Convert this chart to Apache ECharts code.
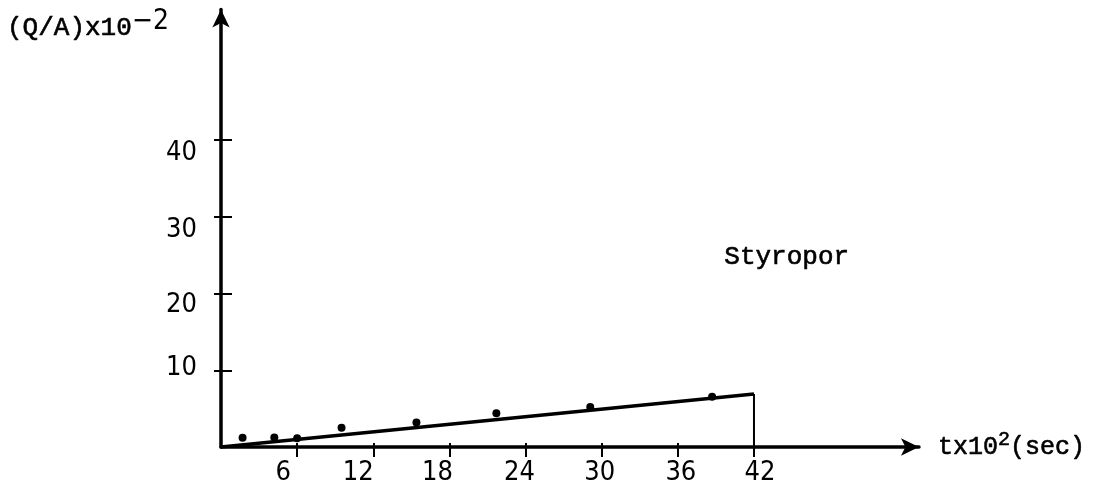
<!DOCTYPE html>
<html>
<head>
<meta charset="utf-8">
<script src="https://cdn.jsdelivr.net/npm/echarts@6/dist/echarts.min.js"></script>
<style>html,body{margin:0;padding:0;background:#fff;}#c{width:1102px;height:493px;}</style>
</head>
<body>
<div id="c"></div>
<script>
// ---- data ----
const xTicks = [6, 12, 18, 24, 30, 36, 42];
const yTicks = [10, 20, 30, 40];
const pointsX = [1.7, 4.2, 6.0, 9.5, 15.4, 21.7, 29.1, 38.7];
const pointsY = [1.2, 1.25, 1.15, 2.5, 3.2, 4.4, 5.2, 6.55];
const fitX = [0, 42];
const fitY = [0, 6.9];
const dropX = [42, 42];
const dropY = [6.9, 0];
const seriesName = 'Styropor';

// ---- styles (hand-typed label offsets in px) ----
const xLabelShift = {6: -14, 12: -15, 18: -12, 24: -6, 30: -2, 36: 3, 42: 6};
const yLabelShift = {10: -2, 20: 11, 30: 13, 40: 13};
const numFont = "'DejaVu Sans Condensed','DejaVu Sans',sans-serif";
const typeFont = "'Liberation Mono','Courier New',monospace";
const ink = {color: '#000', textBorderColor: '#000', textBorderWidth: 0.6};

const xRich = {}, yRich = {};
xTicks.forEach(v => {
  const d = xLabelShift[v] || 0;
  xRich['x' + v] = {fontFamily: numFont, fontSize: 27, color: '#000',
    padding: [0, d < 0 ? -2 * d : 0, 0, d > 0 ? 2 * d : 0]};
});
yTicks.forEach(v => {
  const d = yLabelShift[v] || 0;
  yRich['y' + v] = {fontFamily: numFont, fontSize: 27, color: '#000',
    padding: [d > 0 ? 2 * d : 0, 0, d < 0 ? -2 * d : 0, 0]};
});

const chart = echarts.init(document.getElementById('c'), null, {renderer: 'canvas'});
const XMAX = 55, YMAX = 57;
const gridLeft = 221, gridBottom = 46;
const xPx = 12.69, yPx = 7.675;

chart.setOption({
  backgroundColor: '#fff',
  animation: false,
  title: {
    left: 7, top: 13, padding: 0,
    text: '{a|(Q/A)x10}{s|\u22122}',
    textStyle: {
      fontWeight: 'normal',
      rich: {
        a: Object.assign({fontFamily: typeFont, fontSize: 26, fontWeight: 'normal', lineHeight: 30}, ink),
        s: {fontFamily: numFont, fontSize: 28, fontWeight: 'normal', color: '#000', lineHeight: 30, padding: [0, 0, 12, 0]}
      }
    }
  },
  grid: {
    left: gridLeft,
    width: XMAX * xPx,
    bottom: gridBottom,
    height: YMAX * yPx,
    containLabel: false,
    outerBoundsMode: 'none'
  },
  xAxis: [{
    type: 'value', min: 0, max: XMAX, interval: 6,
    splitLine: {show: false},
    axisLine: {show: true, onZero: false, lineStyle: {color: '#000', width: 3.5},
      symbol: ['none', 'arrow'], symbolSize: [13, 18]},
    axisTick: {show: true, customValues: xTicks, length: 10, lineStyle: {color: '#000', width: 2}},
    axisLabel: {show: true, customValues: xTicks, margin: 12, color: '#000',
      formatter: v => '{x' + v + '|' + v + '}', rich: xRich},
    name: '{a|tx10}{s|2}{a|(sec)}',
    nameLocation: 'end', nameGap: 19,
    nameTextStyle: {
      align: 'left', verticalAlign: 'middle',
      rich: {
        a: Object.assign({fontFamily: typeFont, fontSize: 25, lineHeight: 30}, ink),
        s: Object.assign({fontFamily: typeFont, fontSize: 20, lineHeight: 22, padding: [0, 0, 14, 0]}, ink)
      }
    }
  }, {
    type: 'value', min: 0, max: XMAX, interval: 6, position: 'bottom', offset: 0,
    splitLine: {show: false},
    axisLine: {show: false},
    axisTick: {show: true, inside: true, customValues: xTicks, length: 4, lineStyle: {color: '#000', width: 2}},
    axisLabel: {show: false}
  }],
  yAxis: [{
    type: 'value', min: 0, max: YMAX, interval: 10,
    splitLine: {show: false},
    axisLine: {show: true, onZero: false, lineStyle: {color: '#000', width: 3.5},
      symbol: ['none', 'arrow'], symbolSize: [13, 18]},
    axisTick: {show: true, customValues: yTicks, length: 7, lineStyle: {color: '#000', width: 2}},
    axisLabel: {show: true, customValues: yTicks, margin: 24, color: '#000',
      formatter: v => '{y' + v + '|' + v + '}', rich: yRich}
  }, {
    type: 'value', min: 0, max: YMAX, interval: 10, position: 'left', offset: 0,
    splitLine: {show: false},
    axisLine: {show: false},
    axisTick: {show: true, inside: true, customValues: yTicks, length: 11, lineStyle: {color: '#000', width: 2}},
    axisLabel: {show: false}
  }],
  series: [{
    name: seriesName + ' fit',
    type: 'line',
    data: fitX.map((x, i) => [x, fitY[i]]),
    symbol: 'none',
    lineStyle: {color: '#000', width: 3.5},
    z: 3
  }, {
    name: seriesName + ' end',
    type: 'line',
    data: dropX.map((x, i) => [x, dropY[i]]),
    symbol: 'none',
    lineStyle: {color: '#000', width: 2},
    z: 3
  }, {
    name: seriesName,
    type: 'scatter',
    data: pointsX.map((x, i) => [x, pointsY[i]]),
    symbol: 'circle',
    symbolSize: 8,
    itemStyle: {color: '#000', opacity: 1},
    z: 4
  }],
  graphic: [{
    type: 'text',
    left: 724, top: 244,
    style: {text: seriesName, font: "26px 'Liberation Mono', monospace", fill: '#000', stroke: '#000', lineWidth: 0.6}
  }]
});
</script>
</body>
</html>
